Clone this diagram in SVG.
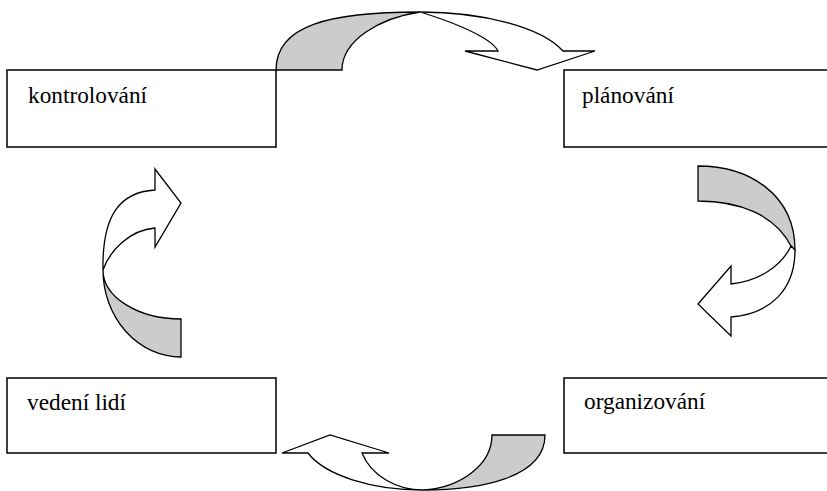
<svg xmlns="http://www.w3.org/2000/svg" width="827" height="491" viewBox="0 0 827 491">
<style>
.box{fill:#fff;stroke:#000;stroke-width:1.5}
text{font-family:'Liberation Serif','Times New Roman',serif;font-size:23.3px;fill:#000}
.back{fill:#cccccc;stroke:#000;stroke-width:1.3;stroke-linejoin:miter}
.front{fill:#fff;stroke:#000;stroke-width:1.3;stroke-linejoin:miter}
</style>
<rect width="827" height="491" fill="#fff"/>
<g id="node-kontrolovani">
<rect class="box" x="7" y="70" width="269" height="77"/>
<text x="28" y="103">kontrolování</text>
</g>
<g id="node-planovani">
<rect class="box" x="564" y="70" width="270" height="77"/>
<text x="582" y="103">plánování</text>
</g>
<g id="node-vedeni-lidi">
<rect class="box" x="7" y="378" width="269" height="75"/>
<text x="27" y="410">vedení lidí</text>
</g>
<g id="node-organizovani">
<rect class="box" x="564" y="378" width="270" height="75"/>
<text x="584" y="409">organizování</text>
</g>
<g id="connectors">
<g id="arrow-top">
<path class="back" d="M276,70 C276,25 330,12 420,12 C380,18 342,40 342,70 Z"/>
<path class="front" d="M420,12 A151 57 0 0 1 563,51 L595,51 L537,70 L465,51 L498,51 C490,35 440,18 420,12 Z"/>
</g>
<g id="arrow-right">
<path class="back" d="M698,166 C750,166 795,195 795,250 L791,246 C775,215 740,201 698,201 Z"/>
<path class="front" d="M791,246 L795,250 C795,290 770,314 731,317 L731,336 L698,304 L731,266 L731,284 C760,281 782,265 791,246 Z"/>
</g>
<g id="arrow-bottom">
<path class="back" d="M492,435 L545,435 C545,478 480,490 423,490 C460,488 492,465 492,435 Z"/>
<path class="front" d="M423,490 A122 55 0 0 1 308,453 L282,453 L330,435 L389,453 L362,453 A64.5 55 0 0 0 423,490 Z"/>
</g>
<g id="arrow-left">
<path class="back" d="M181,319 L181,357 A78 87 0 0 1 103,270 A78 49 0 0 0 181,319 Z"/>
<path class="front" d="M103,270 C102,215 120,192 155,190 L155,169 L181,203 L155,247 L155,228 C130,230 110,250 103,270 Z"/>
</g>
</g>
</svg>
